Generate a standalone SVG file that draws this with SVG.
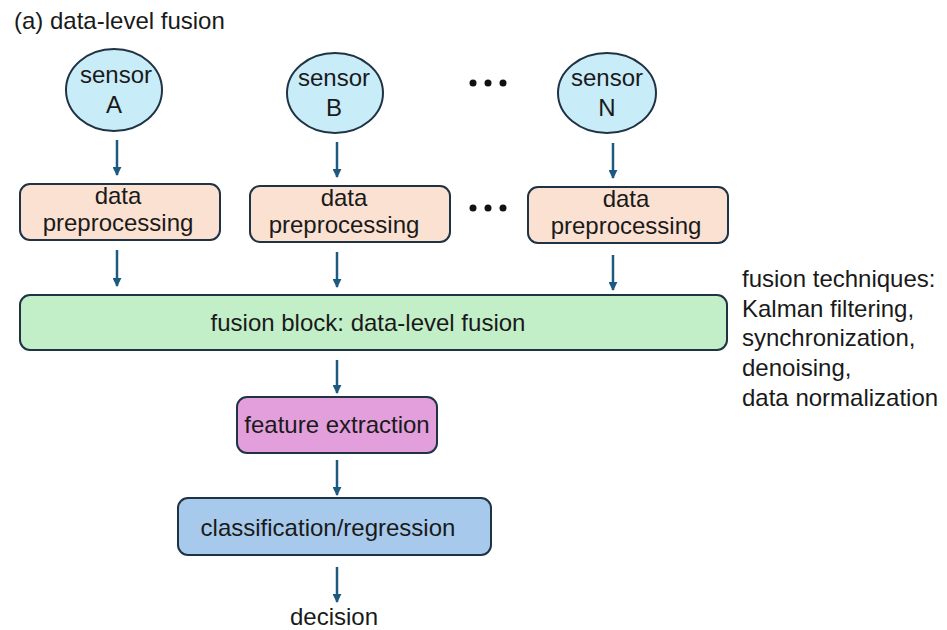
<svg xmlns="http://www.w3.org/2000/svg" width="947" height="630" viewBox="0 0 947 630">
<defs>
<style>
text{font-family:"Liberation Sans",Arial,sans-serif;font-size:24px;fill:#1a1a1a}
.c{text-anchor:middle}
.sensor{fill:#c9ecf9;stroke:#1f3344;stroke-width:2}
.pre{fill:#fbe1d2;stroke:#1f3344;stroke-width:2}
.fus{fill:#c3efc8;stroke:#1f3344;stroke-width:2}
.feat{fill:#e39fdc;stroke:#1f3344;stroke-width:2}
.cls{fill:#a7caec;stroke:#1f3344;stroke-width:2}
.arr{stroke:#1c5a80;stroke-width:2.5;fill:none;marker-end:url(#ah)}
.dot{fill:#111}
</style>
<marker id="ah" viewBox="0 0 10 10" refX="9" refY="5" markerWidth="3.6" markerHeight="3.6" orient="auto" markerUnits="strokeWidth">
<path d="M0,0 L10,5 L0,10 z" fill="#1c5a80"/>
</marker>
</defs>
<rect width="947" height="630" fill="#ffffff"/>
<text x="14" y="29">(a) data-level fusion</text>

<g id="sensorA"><ellipse class="sensor" cx="114" cy="90" rx="48" ry="41"/><text class="c" x="116" y="83">sensor</text><text class="c" x="114" y="113">A</text></g>
<g id="sensorB"><ellipse class="sensor" cx="335" cy="93" rx="48" ry="40"/><text class="c" x="334" y="86">sensor</text><text class="c" x="334" y="116">B</text></g>
<g id="sensorN"><ellipse class="sensor" cx="607" cy="93" rx="49" ry="40"/><text class="c" x="607" y="86">sensor</text><text class="c" x="607" y="116">N</text></g>

<g id="dots1"><circle class="dot" cx="473" cy="83" r="3.5"/><circle class="dot" cx="488" cy="83" r="3.5"/><circle class="dot" cx="503" cy="83" r="3.5"/></g>
<g id="dots2"><circle class="dot" cx="473" cy="208" r="3.5"/><circle class="dot" cx="488" cy="208" r="3.5"/><circle class="dot" cx="503" cy="208" r="3.5"/></g>

<g id="preA"><rect class="pre" x="20" y="184" width="200" height="56" rx="10"/><text class="c" x="118" y="204">data</text><text class="c" x="118" y="231">preprocessing</text></g>
<g id="preB"><rect class="pre" x="250" y="186" width="200" height="56" rx="10"/><text class="c" x="344" y="206">data</text><text class="c" x="344" y="233">preprocessing</text></g>
<g id="preN"><rect class="pre" x="528" y="187" width="200" height="56" rx="10"/><text class="c" x="626" y="207">data</text><text class="c" x="626" y="234">preprocessing</text></g>

<g id="fusion"><rect class="fus" x="20" y="295" width="707" height="55" rx="10"/><text class="c" x="368" y="331">fusion block: data-level fusion</text></g>

<g id="feature"><rect class="feat" x="237" y="397" width="200" height="56" rx="10"/><text class="c" x="337" y="433">feature extraction</text></g>

<g id="classif"><rect class="cls" x="178" y="498" width="313" height="57" rx="10"/><text class="c" x="328" y="536">classification/regression</text></g>

<g id="decision"><text class="c" x="334" y="625">decision</text></g>

<g id="notes"><text x="742" y="287">fusion techniques:</text><text x="742" y="317">Kalman filtering,</text><text x="742" y="346">synchronization,</text><text x="742" y="376">denoising,</text><text x="742" y="406">data normalization</text></g>

<g id="connectors">
<line class="arr" x1="117" y1="140" x2="117" y2="175"/>
<line class="arr" x1="337" y1="142" x2="337" y2="177"/>
<line class="arr" x1="613" y1="143" x2="613" y2="178"/>
<line class="arr" x1="117" y1="250" x2="117" y2="286"/>
<line class="arr" x1="337" y1="252" x2="337" y2="287"/>
<line class="arr" x1="613" y1="255" x2="613" y2="290"/>
<line class="arr" x1="337" y1="360" x2="337" y2="393"/>
<line class="arr" x1="337" y1="460" x2="337" y2="495"/>
<line class="arr" x1="337" y1="567" x2="337" y2="602"/>
</g>
</svg>
